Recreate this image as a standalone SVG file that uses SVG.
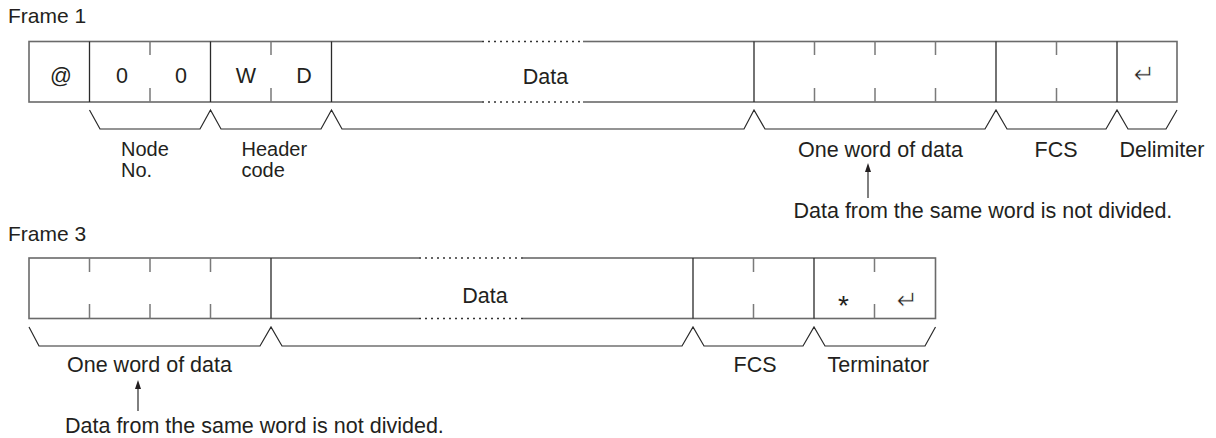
<svg xmlns="http://www.w3.org/2000/svg" width="1216" height="438" viewBox="0 0 1216 438">
<style>
text{font-family:"Liberation Sans",Arial,Helvetica,sans-serif;font-size:21.5px;fill:#231f20}
.c{text-anchor:middle}
.two{font-size:20px}
.box{fill:#fff;stroke:#6a6a6a;stroke-width:1.6}
.div{stroke:#2a2a2a;stroke-width:1.3;fill:none}
.tick{stroke:#7a7a7a;stroke-width:1.5;fill:none}
.dot{stroke:#fff;stroke-width:3;fill:none}
.dotl{stroke:#333;stroke-width:1.3;stroke-dasharray:2 4;fill:none}
.br{stroke:#2a2a2a;stroke-width:1.2;fill:none}
.ah{fill:#231f20}
.sym{font-family:"DejaVu Sans",sans-serif;font-size:26px;stroke:#fff;stroke-width:0.7}
.ast{font-size:28px}
</style>
<rect width="1216" height="438" fill="#fff"/>

<g id="frame1">
<text x="8" y="23" style="font-size:21px">Frame 1</text>
<rect class="box" x="29" y="41.5" width="1148" height="60.5"/>
<path class="dot" d="M482,41.5 H583 M482,102 H583"/>
<path class="dotl" d="M482,41.5 H583 M482,102 H583"/>
<path class="div" d="M89.5,41.5 V102 M210.5,41.5 V102 M331.5,41.5 V102 M754,41.5 V102 M996,41.5 V102 M1117,41.5 V102"/>
<path class="tick" d="M150,41.5 V55 M150,88 V102 M271,41.5 V55 M271,88 V102 M814.5,41.5 V55 M814.5,88 V102 M875,41.5 V55 M875,88 V102 M935.5,41.5 V55 M935.5,88 V102 M1056.5,41.5 V55 M1056.5,88 V102"/>
<text class="c" x="61" y="83">@</text>
<text class="c" x="122" y="83">0</text>
<text class="c" x="181" y="83">0</text>
<text class="c" x="246" y="83">W</text>
<text class="c" x="304" y="83">D</text>
<text class="c" x="545.5" y="84">Data</text>
<text class="c sym" x="1144.5" y="82.5">↵</text>
<text class="two" x="121" y="156">Node</text>
<text class="two" x="121" y="177">No.</text>
<text class="two" x="241.5" y="156">Header</text>
<text class="two" x="241.5" y="177">code</text>
<text x="798" y="157">One word of data</text>
<text class="c" x="1056" y="157">FCS</text>
<text x="1119.5" y="157">Delimiter</text>
<text x="793.5" y="218">Data from the same word is not divided.</text>
</g>

<g id="frame3">
<text x="8" y="241" style="font-size:21px">Frame 3</text>
<rect class="box" x="29" y="258" width="906.5" height="60.5"/>
<path class="dot" d="M419,258 H523 M419,318.5 H523"/>
<path class="dotl" d="M419,258 H523 M419,318.5 H523"/>
<path class="div" d="M271,258 V318.5 M693,258 V318.5 M814,258 V318.5"/>
<path class="tick" d="M89.5,258 V272 M89.5,304 V318.5 M150,258 V272 M150,304 V318.5 M210.5,258 V272 M210.5,304 V318.5 M753.5,258 V272 M753.5,304 V318.5 M874.5,258 V272 M874.5,304 V318.5"/>
<text class="c" x="485" y="303">Data</text>
<text class="c ast" x="843.5" y="315">*</text>
<text class="c sym" x="907.5" y="308.5">↵</text>
<text x="67" y="372">One word of data</text>
<text class="c" x="755" y="372">FCS</text>
<text x="827.5" y="372">Terminator</text>
<text x="65" y="433">Data from the same word is not divided.</text>
</g>

<g id="connectors">
<path class="br" d="M89.5,110 L100,129 L200,129 L210.5,110 L221,129 L321,129 L331.5,110 L342,129 L744,129 L754,110 L765,129 L985,129 L996,110 L1007,129 L1106,129 L1117,110 L1128,129 L1166,129 L1177,110"/>
<path class="br" d="M29,327 L39,346 L260,346 L271,327 L282,346 L682,346 L693,327 L704,346 L803,346 L814,327 L825,346 L925,346 L935.5,327"/>
<line class="br" x1="868" y1="198" x2="868" y2="170"/>
<polygon class="ah" points="868,163 865,172 871,172"/>
<line class="br" x1="138" y1="411" x2="138" y2="387"/>
<polygon class="ah" points="138,380 135,389 141,389"/>
</g>
</svg>
